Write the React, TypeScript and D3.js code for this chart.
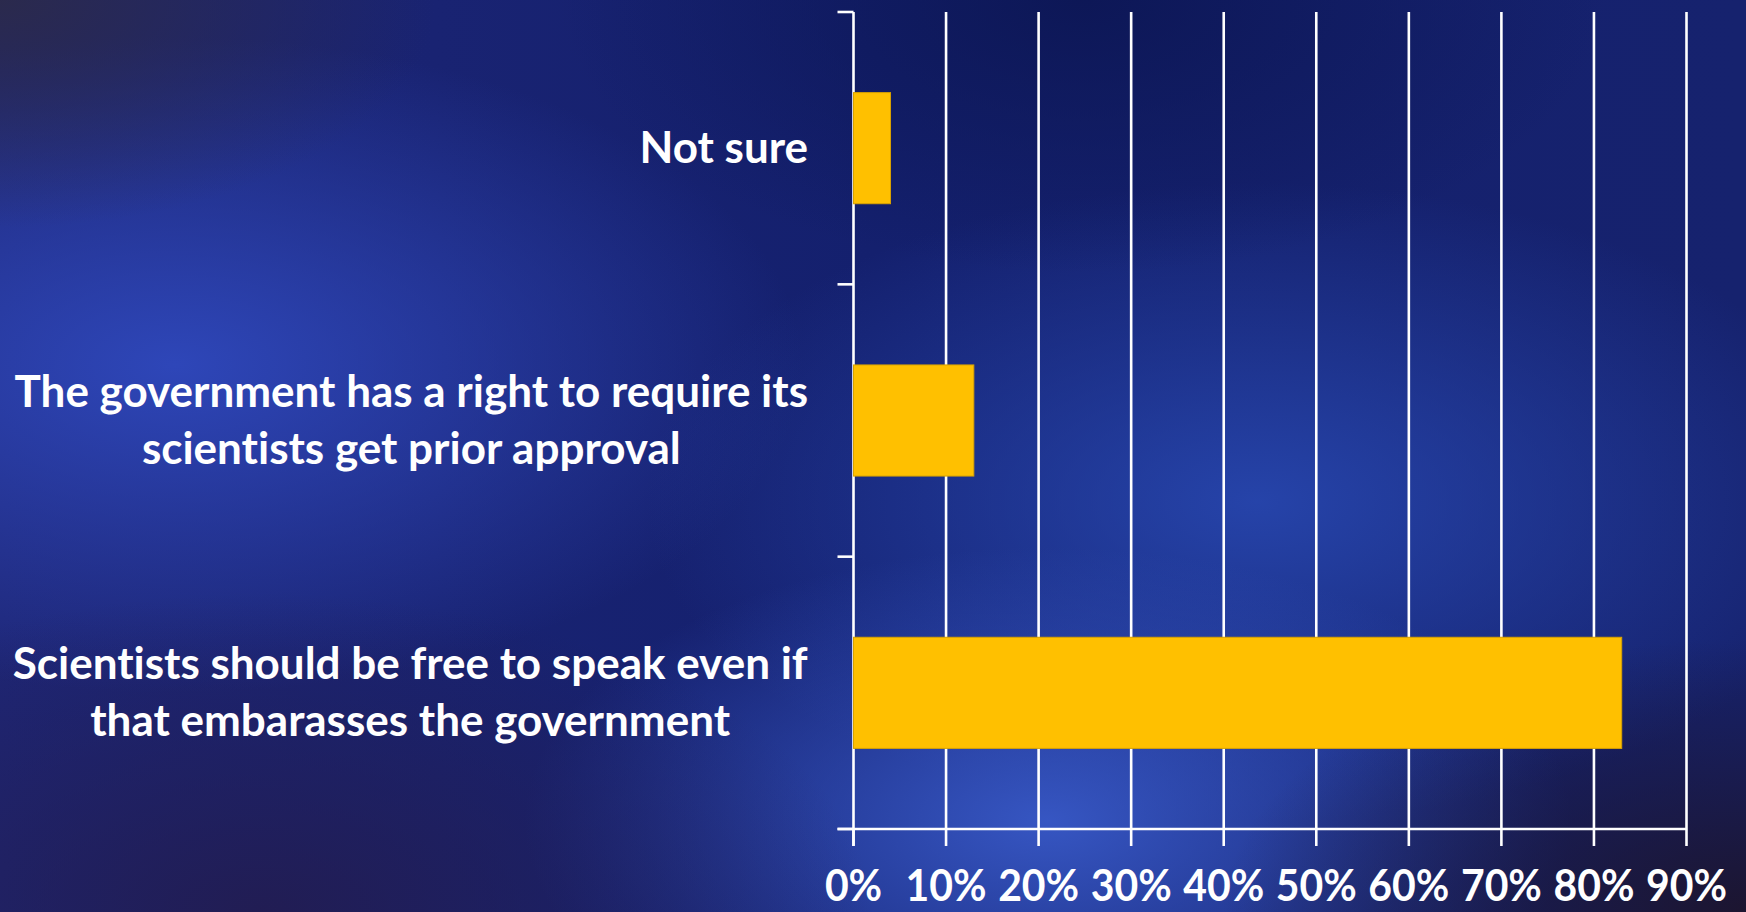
import * as d3 from "d3";
import React from "react";

// survey answers, top to bottom as drawn
const categories = ["Not sure", "Government approval", "Free to speak"];
const labelLines = [
  ["Not sure"],
  ["The government has a right to require its", "scientists get prior approval"],
  ["Scientists should be free to speak even if", "that embarasses the government"],
];
const values = [4, 13, 83]; // percent
const xTickValues = [0, 10, 20, 30, 40, 50, 60, 70, 80, 90];

const W = 1746;
const H = 912;
const FONT = "Lato, 'Open Sans', sans-serif";

let ctx: CanvasRenderingContext2D | null = null;
function measure(text: string, size: number) {
  if (!ctx) ctx = document.createElement("canvas").getContext("2d");
  if (!ctx) return text.length * size * 0.5;
  ctx.font = `700 ${size}px Lato`;
  return ctx.measureText(text).width;
}

export default function App() {
  const left = 853.5;
  const right = 1686.5;
  const top = 12;
  const bottom = 829;

  const x = d3.scaleLinear([0, 90], [left, right]);
  const y = d3
    .scaleBand<string>(categories, [top, bottom])
    .paddingInner(0.592)
    .paddingOuter(0.296);
  const step = y.step();

  const labelSize = 44;
  const wordGap = 0;
  const lineGap = 57;
  const capH = 29;
  const labelRight = 808;

  const tickSize = 44;
  const tickSquash = 0.93;

  return (
    <svg
      width={W}
      height={H}
      style={{ position: "absolute", left: 0, top: 0, display: "block" }}
      fontFamily={FONT}
    >
      <defs>
        <radialGradient id="glowL" cx="0.1" cy="0.4" r="0.36">
          <stop offset="0" stopColor="#2f48bc" stopOpacity="0.95" />
          <stop offset="1" stopColor="#2f48bc" stopOpacity="0" />
        </radialGradient>
        <radialGradient id="glowB" cx="0.6" cy="0.9" r="0.3">
          <stop offset="0" stopColor="#3a5ccc" stopOpacity="0.9" />
          <stop offset="1" stopColor="#3a5ccc" stopOpacity="0" />
        </radialGradient>
        <radialGradient id="glowR" cx="0.72" cy="0.55" r="0.35">
          <stop offset="0" stopColor="#2a4cb8" stopOpacity="0.8" />
          <stop offset="1" stopColor="#2a4cb8" stopOpacity="0" />
        </radialGradient>
        <radialGradient id="darkTL" cx="0" cy="0" r="0.25">
          <stop offset="0" stopColor="#2c2a48" stopOpacity="0.9" />
          <stop offset="1" stopColor="#2c2a48" stopOpacity="0" />
        </radialGradient>
        <radialGradient id="darkTR" cx="0.62" cy="0" r="0.3">
          <stop offset="0" stopColor="#0c1654" stopOpacity="0.9" />
          <stop offset="1" stopColor="#0c1654" stopOpacity="0" />
        </radialGradient>
        <radialGradient id="darkBR" cx="1" cy="1" r="0.3">
          <stop offset="0" stopColor="#1c1530" stopOpacity="1" />
          <stop offset="1" stopColor="#1c1530" stopOpacity="0" />
        </radialGradient>
        <radialGradient id="darkBL" cx="0.15" cy="1" r="0.35">
          <stop offset="0" stopColor="#221c50" stopOpacity="0.9" />
          <stop offset="1" stopColor="#221c50" stopOpacity="0" />
        </radialGradient>
        <linearGradient id="base" x1="0" y1="0" x2="1" y2="0">
          <stop offset="0" stopColor="#1e2676" />
          <stop offset="0.5" stopColor="#14206e" />
          <stop offset="1" stopColor="#16226e" />
        </linearGradient>
      </defs>

      {/* background */}
      <rect width={W} height={H} fill="url(#base)" />
      <rect width={W} height={H} fill="url(#glowL)" />
      <rect width={W} height={H} fill="url(#glowR)" />
      <rect width={W} height={H} fill="url(#glowB)" />
      <rect width={W} height={H} fill="url(#darkTL)" />
      <rect width={W} height={H} fill="url(#darkTR)" />
      <rect width={W} height={H} fill="url(#darkBL)" />
      <rect width={W} height={H} fill="url(#darkBR)" />

      {/* grid lines */}
      <g stroke="#ffffff" strokeWidth={2.6}>
        {xTickValues.slice(1).map((v) => (
          <line key={v} x1={x(v)} x2={x(v)} y1={top} y2={bottom} />
        ))}
      </g>

      {/* category axis */}
      <g stroke="#ffffff" strokeWidth={2.6} fill="none">
        <line x1={left} x2={left} y1={top} y2={bottom + 17} />
        {d3.range(categories.length + 1).map((i) => (
          <line
            key={i}
            x1={left - 16}
            x2={left}
            y1={top + i * step}
            y2={top + i * step}
          />
        ))}
      </g>

      {/* value axis */}
      <g stroke="#ffffff" strokeWidth={2.6}>
        <line x1={left - 16} x2={right} y1={bottom} y2={bottom} />
        {xTickValues.map((v) => (
          <line key={v} x1={x(v)} x2={x(v)} y1={bottom} y2={bottom + 17} />
        ))}
      </g>
      <g fill="#ffffff" fontWeight={700} fontSize={tickSize} textAnchor="middle">
        {xTickValues.map((v) => (
          <text
            key={v}
            transform={`translate(${x(v)},${901}) scale(${tickSquash},1)`}
          >
            {`${v}%`}
          </text>
        ))}
      </g>

      {/* bars */}
      <g fill="#ffc000" stroke="#d9a200" strokeWidth={1}>
        {categories.map((c, i) => (
          <rect
            key={c}
            x={x(0)}
            y={y(c) ?? 0}
            width={x(values[i]) - x(0)}
            height={y.bandwidth()}
          />
        ))}
      </g>

      {/* category labels: lines centred in a right-aligned block */}
      <g
        fill="#ffffff"
        fontWeight={700}
        fontSize={labelSize}
        textAnchor="middle"
        wordSpacing={wordGap}
        style={{ fontVariantLigatures: "none" }}
      >
        {categories.map((c, i) => {
          const lines = labelLines[i];
          const blockW =
            d3.max(
              lines,
              (l) => measure(l, labelSize) + (l.split(" ").length - 1) * wordGap
            ) ?? 0;
          const cx = labelRight - blockW / 2;
          const cy = (y(c) ?? 0) + y.bandwidth() / 2;
          return lines.map((line, j) => (
            <text
              key={`${c}-${j}`}
              x={cx}
              y={cy + capH / 2 + (j - (lines.length - 1) / 2) * lineGap}
            >
              {line}
            </text>
          ));
        })}
      </g>
    </svg>
  );
}
